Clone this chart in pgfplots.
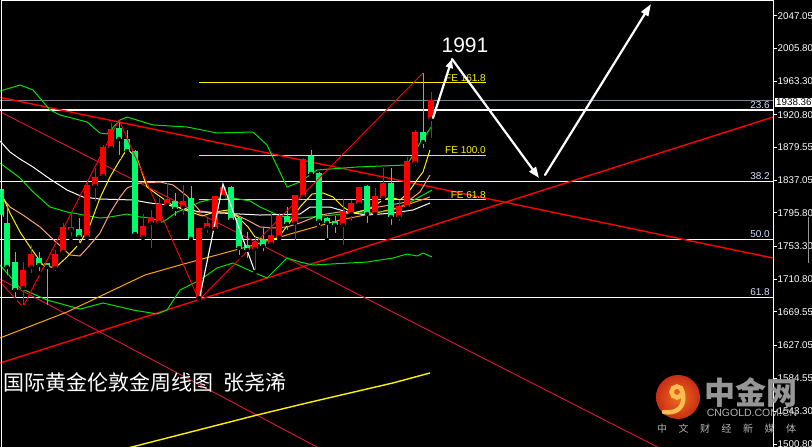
\documentclass[border=0pt]{standalone}
\usepackage{fontspec}
\setmainfont{Liberation Sans}
\newfontfamily\cjk{Noto Sans CJK SC}
\usepackage{pgfplots}
\pgfplotsset{compat=1.18}
\usepackage{pgfplotstable}
\usetikzlibrary{arrows.meta}
\definecolor{candleup}{RGB}{255,0,0}
\definecolor{candledn}{RGB}{0,250,110}
\definecolor{bbgreen}{RGB}{0,225,0}
\definecolor{crimsonl}{RGB}{225,20,60}
\definecolor{salmonl}{RGB}{250,160,122}
\definecolor{orangel}{RGB}{255,165,0}
\definecolor{pricegray}{RGB}{120,130,145}
\definecolor{fiblab}{RGB}{210,225,255}
\definecolor{wmgray}{RGB}{150,150,150}
\definecolor{wmlight}{RGB}{180,180,180}
\definecolor{logored}{RGB}{200,45,20}
\definecolor{logoora}{RGB}{240,110,30}
\definecolor{logoyel}{RGB}{248,190,80}

\pgfplotstableread{
x blo bhi wlo whi
23 1700.0 1721.7 1675.8 1733.1
31 1726.8 1742.1 1716.6 1754.8
55 1725.5 1742.1 1719.1 1748.4
63 1745.9 1776.5 1739.8 1782.9
71 1773.9 1776.5 1763.7 1795.6
87 1765.0 1830.0 1763.7 1837.7
95 1830.0 1840.2 1808.3 1852.9
103 1842.8 1878.4 1841.5 1882.3
111 1878.4 1901.4 1878.4 1910.3
143 1765.0 1777.8 1763.7 1794.3
151 1782.9 1789.2 1748.4 1799.4
159 1782.9 1805.8 1782.9 1814.7
167 1805.8 1812.2 1802.0 1833.8
183 1803.2 1809.6 1790.5 1831.3
199 1687.3 1775.2 1683.4 1776.5
207 1776.5 1781.6 1767.6 1789.2
215 1775.2 1816.0 1775.2 1817.3
223 1816.0 1827.5 1816.0 1832.6
255 1749.7 1757.4 1720.4 1765.0
271 1756.1 1766.3 1752.3 1795.6
279 1765.0 1790.5 1761.2 1795.6
295 1782.9 1817.3 1758.6 1817.3
303 1816.0 1863.1 1816.0 1865.7
343 1780.3 1796.9 1752.3 1813.4
351 1794.3 1807.1 1782.9 1812.2
359 1807.1 1827.5 1803.2 1828.7
375 1794.3 1816.0 1790.5 1827.5
383 1814.7 1832.6 1812.2 1852.9
399 1790.5 1803.2 1782.9 1812.2
407 1803.2 1860.6 1802.0 1867.0
415 1859.3 1897.6 1852.9 1901.4
431 1915.4 1938.4 1888.6 1949.8
}\upc

\pgfplotstableread{
x blo bhi wlo whi
1 1790.5 1824.9 1790.5 1824.9
7 1726.8 1781.6 1714.0 1805.8
15 1697.4 1731.9 1684.7 1745.9
39 1729.3 1737.0 1719.1 1745.9
47 1726.8 1730.6 1675.8 1730.6
79 1765.0 1773.9 1754.8 1789.2
119 1889.9 1902.7 1867.0 1914.1
127 1874.6 1888.6 1873.3 1901.4
135 1768.8 1873.3 1765.0 1875.9
175 1800.7 1809.6 1789.2 1821.1
191 1762.5 1813.4 1757.4 1830.0
231 1786.7 1827.5 1784.1 1830.0
239 1751.0 1787.9 1739.5 1790.5
247 1748.4 1753.5 1735.7 1771.4
263 1753.5 1761.2 1744.6 1776.5
287 1781.6 1790.5 1771.4 1803.2
311 1845.3 1867.0 1841.5 1875.9
319 1785.4 1845.3 1777.8 1847.9
327 1782.9 1787.9 1761.2 1790.5
335 1780.3 1784.1 1767.6 1791.8
367 1794.3 1828.7 1780.3 1831.3
391 1790.5 1832.6 1777.8 1852.9
423 1886.1 1897.6 1875.9 1974.0
}\dnc

\begin{document}
\begin{tikzpicture}[x=1pt,y=1pt]
\path[use as bounding box] (0,0) rectangle (812,447);
\clip (0,0) rectangle (812,447);
\fill[black] (0,0) rectangle (812,447);
\begin{axis}[
  at={(0,0)}, anchor=south west, scale only axis,
  width=773pt, height=447pt,
  xmin=0, xmax=773, ymin=1497.36, ymax=2067.06,
  axis line style={draw=none},
  xtick=\empty,
  ytick={2047.05,2005.80,1963.30,1920.80,1879.55,1837.05,1795.80,1753.30,1710.80,1669.55,1627.05,1584.55,1543.30,1500.80},
  yticklabels={2047.05,2005.80,1963.30,1920.80,1879.55,1837.05,1795.80,1753.30,1710.80,1669.55,1627.05,1584.55,1543.30,1500.80},
  ytick pos=right, yticklabel pos=right,
  tick align=outside, major tick length=4pt,
  major tick style={white, line width=0.8pt},
  yticklabel style={font=\fontsize{9.8}{10}\selectfont, text=white, anchor=west, inner sep=0.5pt},
  clip=true,
]
% Fibonacci retracement levels
\addplot[white, line width=1.2pt] coordinates {(0,1926.9) (773,1926.9)};
\addplot[white, line width=1.2pt] coordinates {(0,1835.5) (773,1835.5)};
\addplot[white, line width=1.2pt] coordinates {(0,1762.1) (773,1762.1)};
\addplot[white, line width=1.2pt] coordinates {(0,1688.1) (773,1688.1)};
% current price
\addplot[pricegray, line width=1pt] coordinates {(0,1938.36) (773,1938.36)};
% Fibonacci expansion
\addplot[yellow, line width=1pt] coordinates {(199,1961.3) (486,1961.3)};
\addplot[yellow, line width=1pt] coordinates {(199,1869.5) (486,1869.5)};
\addplot[yellow, line width=1pt] coordinates {(199,1812.2) (486,1812.2)};
% trend lines
\addplot[candleup, line width=1.4pt] coordinates {(0,1943.0) (773,1738.2)};
\addplot[candleup, line width=1.4pt] coordinates {(0,1604.4) (773,1917.9)};
\addplot[crimsonl, line width=0.9pt] coordinates {(0,1924.7) (700,1469.7)};
\addplot[crimsonl, line width=0.9pt] coordinates {(0,1711.5) (400,1441.3)};
% long yellow average
\addplot[yellow, line width=1.4pt] coordinates {(120,1493.5) (257,1538.1) (307,1553.5) (393,1579.0) (430,1591.7)};
% Bollinger bands
\addplot[bbgreen, line width=1pt] coordinates {(0,1951.1) (20,1958.7) (33,1952.4) (50,1926.9) (60,1920.5) (87,1911.6) (100,1897.6) (107,1896.3) (120,1914.1) (127,1917.9) (153,1907.8) (187,1905.2) (217,1897.6) (253,1898.8) (267,1882.3) (287,1828.7) (300,1835.1) (317,1850.4) (357,1854.2) (407,1856.8) (420,1884.8) (432,1906.5)};
\addplot[bbgreen, line width=1pt] coordinates {(0,1859.3) (20,1840.2) (33,1822.4) (50,1803.2) (67,1796.9) (100,1789.2) (110,1790.5) (127,1794.3) (140,1790.5) (150,1789.2) (163,1784.1) (177,1796.9) (187,1802.0) (200,1809.6) (217,1814.7) (233,1814.7) (250,1810.9) (260,1803.2) (280,1791.8) (300,1789.2) (333,1793.0) (353,1795.6) (373,1795.6) (393,1799.4) (410,1809.6) (423,1818.5) (432,1824.9)};
\addplot[bbgreen, line width=1pt] coordinates {(0,1729.3) (20,1700.0) (47,1684.7) (80,1673.2) (103,1680.9) (133,1672.0) (157,1666.9) (167,1672.0) (180,1697.4) (200,1710.2) (217,1725.5) (233,1731.9) (253,1720.4) (267,1712.7) (287,1738.2) (300,1733.1) (313,1729.3) (367,1733.1) (393,1738.2) (407,1743.3) (417,1740.8) (423,1744.6) (432,1739.5)};
% moving averages
\addplot[white, line width=1pt] coordinates {(0,1887.4) (10,1873.3) (20,1864.4) (33,1854.2) (50,1838.9) (67,1824.9) (83,1816.0) (100,1813.4) (133,1812.2) (150,1808.3) (167,1805.8) (200,1796.9) (220,1795.6) (260,1793.0) (300,1794.3) (310,1803.2) (330,1803.2) (347,1796.9) (367,1793.0) (393,1795.6) (413,1799.4) (430,1808.3)};
\addplot[salmonl, line width=1pt] coordinates {(0,1818.5) (10,1803.2) (23,1793.0) (40,1777.8) (57,1757.4) (70,1742.1) (80,1740.8) (90,1754.8) (100,1770.1) (110,1795.6) (120,1816.0) (127,1827.5) (140,1833.8) (160,1835.1) (173,1831.3) (187,1817.3) (200,1798.1) (217,1795.6) (230,1796.9) (247,1786.7) (260,1777.8) (273,1776.5) (287,1777.8) (300,1782.9) (320,1793.0) (340,1796.9) (353,1795.6) (373,1802.0) (390,1805.8) (407,1809.6) (420,1822.4) (430,1844.0)};
\addplot[orangel, line width=1pt] coordinates {(0,1636.3) (67,1669.4) (145,1716.6) (180,1729.3) (250,1753.5) (290,1768.8) (340,1786.7) (380,1796.9) (400,1803.2) (430,1816.0)};
\addplot[yellow, line width=1pt] coordinates {(0,1824.9) (10,1795.6) (20,1771.4) (30,1752.3) (43,1729.3) (55,1725.5) (67,1739.5) (80,1757.4) (90,1780.3) (100,1814.7) (110,1841.5) (120,1863.1) (127,1877.2) (137,1865.7) (147,1828.7) (158,1818.5) (172,1805.8) (185,1799.4) (202,1791.8) (215,1796.9) (228,1799.4) (238,1790.5) (248,1777.8) (255,1765.0) (265,1761.2) (278,1763.7) (290,1784.1) (300,1803.2) (312,1819.8) (323,1821.1) (333,1816.0) (343,1803.2) (353,1795.6) (367,1799.4) (380,1809.6) (390,1816.0) (400,1812.2) (408,1821.1) (417,1837.7) (423,1847.9) (430,1875.9)};
% candles: wicks and bodies
\addplot[only marks, mark=none, error bars/.cd, y dir=plus, y explicit, error mark=none, error bar style={draw=candleup, line width=1pt}] table[x=x, y=wlo, y error expr=\thisrow{whi}-\thisrow{wlo}] {\upc};
\addplot[only marks, mark=none, error bars/.cd, y dir=plus, y explicit, error mark=none, error bar style={draw=candledn, line width=1pt}] table[x=x, y=wlo, y error expr=\thisrow{whi}-\thisrow{wlo}] {\dnc};
\addplot[only marks, mark=none, error bars/.cd, y dir=plus, y explicit, error mark=none, error bar style={draw=candleup, line width=5.3pt}] table[x=x, y=blo, y error expr=\thisrow{bhi}-\thisrow{blo}+0.8] {\upc};
\addplot[only marks, mark=none, error bars/.cd, y dir=plus, y explicit, error mark=none, error bar style={draw=candledn, line width=5.3pt}] table[x=x, y=blo, y error expr=\thisrow{bhi}-\thisrow{blo}+0.8] {\dnc};
% zigzags
\addplot[candleup, line width=0.9pt] coordinates {(0,1707.6) (23,1675.8) (119,1914.1) (199,1684.7) (423,1974.0)};
\addplot[white, line width=1.1pt] coordinates {(199,1683.4) (223,1832.6) (255,1720.4)};
\end{axis}
% frame
\draw[white, line width=1pt] (1,0) -- (1,446) -- (773.5,446) -- (773.5,0);
% price box
\node[fill=white, text=black, anchor=west, inner xsep=1pt, inner ysep=1.5pt, font=\fontsize{9.8}{10}\selectfont] at (775,344.5) {1938.36};
\draw[wmgray, line width=1pt] (808,230) -- (808,184);
% fib labels
\begin{scope}[every node/.style={anchor=south east, inner sep=1pt, font=\fontsize{10}{11}\selectfont}]
\node[text=fiblab] at (771,337.3) {23.6};
\node[text=fiblab] at (771,265.8) {38.2};
\node[text=fiblab] at (771,208.2) {50.0};
\node[text=fiblab] at (771,150.2) {61.8};
\node[text=yellow] at (487,364.3) {FE 161.8};
\node[text=yellow] at (487,292.3) {FE 100.0};
\node[text=yellow] at (487,247.3) {FE 61.8};
\end{scope}
% arrows
\begin{scope}[white, line width=2.2pt, line cap=round]
\draw[-{Triangle[length=9pt,width=7pt]}] (433,329) -- (452,388);
\draw[-{Triangle[length=11pt,width=8pt]}] (452,388) -- (539,269);
\draw[-{Triangle[length=12pt,width=8pt]}] (545,272) -- (651,443);
\end{scope}
\node[text=white, font=\fontsize{21}{22}\selectfont, inner sep=0pt] at (465,402) {1991};
% title
\node[text=white, anchor=west, inner sep=0pt, font=\cjk\fontsize{21}{22}\selectfont] at (3,64.5) {国际黄金伦敦金周线图\hspace{10pt}张尧浠};
% watermark
\shade[inner color=logoora, outer color=logored] (678,50) circle (22);
\draw[logoyel, line width=4.5pt] (677,55) circle (5.5);
\draw[logoyel, line width=4.5pt, line cap=round] (683,53) .. controls (685,40) and (677,33) .. (664,35);
\node[text=wmgray, inner sep=0pt, font=\cjk\bfseries\fontsize{31}{31}\selectfont] at (751,54) {中金网};
\node[text=wmlight, inner sep=0pt, font=\fontsize{10.5}{11}\selectfont] at (752,34.5) {CNGOLD.COM.CN};
\node[text=wmlight, inner sep=0pt, font=\cjk\fontsize{10}{11}\selectfont] at (726.5,18.5) {中\hspace{11.5pt}文\hspace{11.5pt}财\hspace{11.5pt}经\hspace{11.5pt}新\hspace{11.5pt}媒\hspace{11.5pt}体};
\end{tikzpicture}
\end{document}
